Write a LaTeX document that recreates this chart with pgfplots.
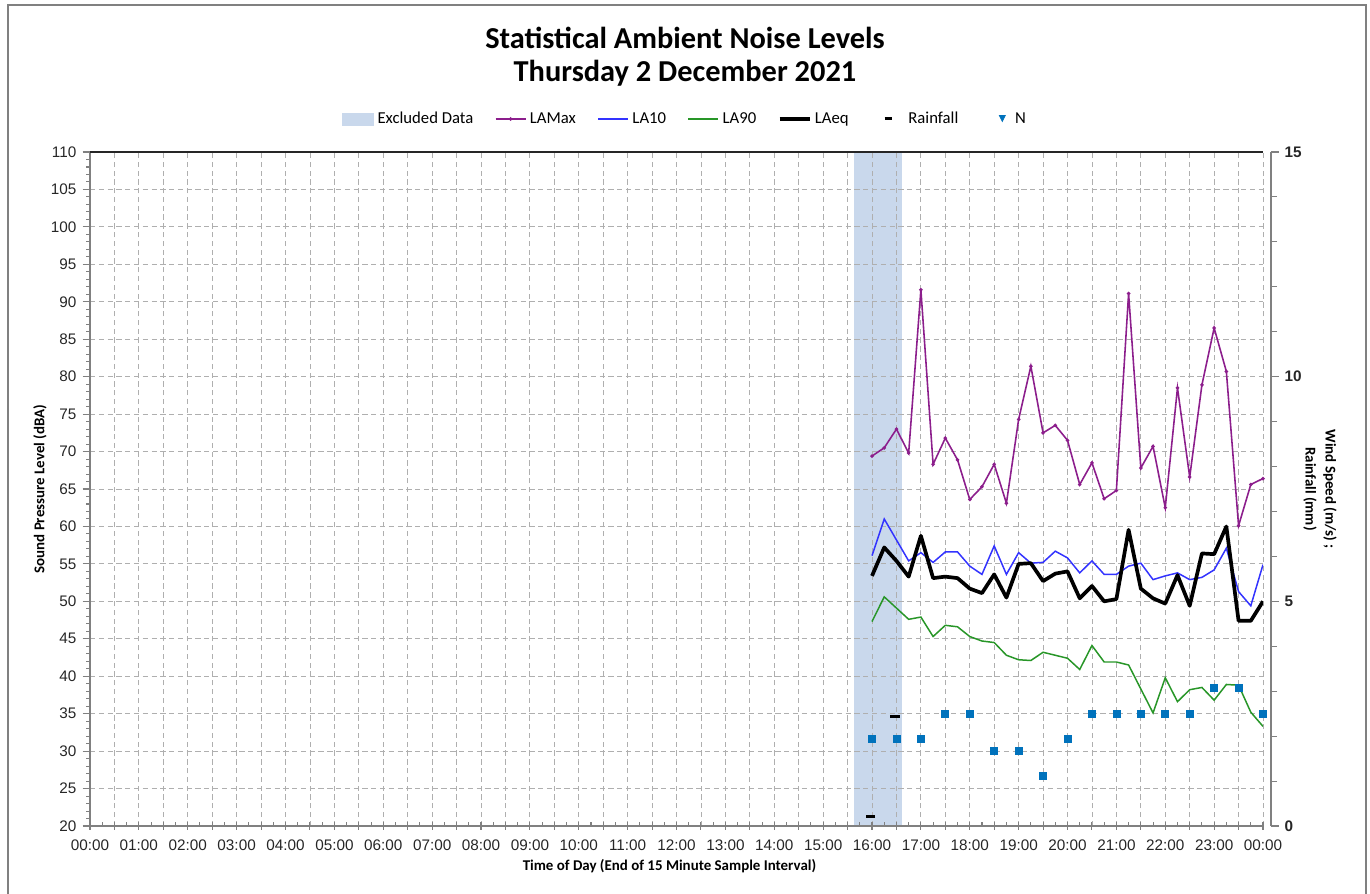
\documentclass[border=0pt]{standalone}
\usepackage{pgfplots}
\usepackage{pgfplotstable}
\pgfplotsset{compat=1.18}
\usepackage{fontspec}
\setmainfont{Carlito}
\newfontfamily\arial{Liberation Sans}
\definecolor{lamax}{RGB}{140,30,140}
\definecolor{la10}{RGB}{51,51,255}
\definecolor{la90}{RGB}{40,150,40}
\definecolor{ncol}{RGB}{0,114,188}
\definecolor{excl}{RGB}{201,216,236}
\definecolor{gridc}{RGB}{175,175,175}
\definecolor{axc}{RGB}{128,128,128}

\pgfplotstableread{
t lamax la10 la90 laeq
16.00 69.4 56.1 47.3 53.4
16.25 70.5 61.0 50.6 57.2
16.50 73.0 58.2 49.1 55.4
16.75 69.8 55.4 47.6 53.3
17.00 91.6 56.5 47.9 58.75
17.25 68.3 55.2 45.3 53.1
17.50 71.8 56.6 46.8 53.3
17.75 68.9 56.6 46.6 53.1
18.00 63.6 54.7 45.3 51.7
18.25 65.3 53.6 44.7 51.1
18.50 68.3 57.4 44.5 53.6
18.75 63.1 53.6 42.8 50.5
19.00 74.3 56.5 42.2 55.0
19.25 81.4 55.1 42.1 55.1
19.50 72.5 55.2 43.2 52.7
19.75 73.5 56.7 42.8 53.7
20.00 71.5 55.8 42.4 54.0
20.25 65.6 53.8 40.9 50.4
20.50 68.5 55.4 44.1 52.05
20.75 63.7 53.6 41.9 50.0
21.00 64.8 53.6 41.9 50.3
21.25 91.1 54.7 41.5 59.55
21.50 67.8 55.1 38.3 51.7
21.75 70.7 52.9 35.1 50.4
22.00 62.5 53.4 39.8 49.7
22.25 78.5 53.8 36.6 53.5
22.50 66.6 52.9 38.2 49.4
22.75 78.9 53.2 38.5 56.4
23.00 86.5 54.2 36.8 56.3
23.25 80.7 57.1 38.9 60.0
23.50 60.1 51.3 38.8 47.4
23.75 65.6 49.4 35.2 47.4
24.00 66.4 54.9 33.3 50.0
}\noise

\pgfplotstableread{
t n
16.0 1.95
16.5 1.95
17.0 1.95
17.5 2.5
18.0 2.5
18.5 1.68
19.0 1.68
19.5 1.11
20.0 1.95
20.5 2.5
21.0 2.5
21.5 2.5
22.0 2.5
22.5 2.5
23.0 3.07
23.5 3.07
24.0 2.5
}\wind

\pgfplotstableread{
t r
15.97 0.22
16.47 2.43
}\rain

\begin{document}
\begin{tikzpicture}
\useasboundingbox (-1.8,-1.34) rectangle (25.6,16.52);
\draw[axc, line width=1.1pt] (-1.64,-2) -- (-1.64,16.42) -- (25.52,16.42) -- (25.52,-2);

% background axis: excluded data band
\begin{axis}[scale only axis, width=23.46cm, height=13.48cm,
  xmin=0, xmax=24, ymin=20, ymax=110, hide axis]
\addplot[fill=excl, draw=none] coordinates {(15.64,110) (16.62,110)} \closedcycle;
\end{axis}

% main axis
\begin{axis}[scale only axis, width=23.46cm, height=13.48cm,
  xmin=0, xmax=24, ymin=20, ymax=110,
  axis x line*=bottom, axis y line*=left,
  axis line style={axc, line width=0.8pt},
  xtick={0,0.5,...,24},
  xticklabels={00:00,,01:00,,02:00,,03:00,,04:00,,05:00,,06:00,,07:00,,08:00,,09:00,,10:00,,11:00,,12:00,,13:00,,14:00,,15:00,,16:00,,17:00,,18:00,,19:00,,20:00,,21:00,,22:00,,23:00,,00:00},
  minor x tick num=1,
  ytick={20,25,...,110},
  minor y tick num=4,
  grid=major,
  major grid style={gridc, dash pattern=on 3pt off 2pt, line width=0.5pt},
  tick style={axc, line width=0.6pt},
  tick align=outside,
  major tick length=0.15cm, minor tick length=0.08cm,
  major x tick style={yshift=0.075cm},
  minor x tick style={yshift=0.08cm},
  /pgf/number format/assume math mode=true,
  xticklabel style={font=\arial\fontsize{8.7}{10}\selectfont, text=black!85},
  yticklabel style={font=\arial\fontsize{8.7}{10}\selectfont, text=black!85},
  xlabel={Time of Day (End of 15 Minute Sample Interval)},
  xlabel style={at={(axis description cs:0.494,-0.0593)}, anchor=center, font=\bfseries\fontsize{8.5}{10}\selectfont},
  ylabel={Sound Pressure Level (dBA)},
  ylabel style={at={(axis description cs:-0.0426,0.5)}, anchor=center, font=\bfseries\fontsize{8.5}{10}\selectfont},
  legend style={at={(axis description cs:0.508,1.049)}, anchor=center, draw=none, fill=none,
    legend columns=-1, font=\fontsize{9.5}{11}\selectfont,
    /tikz/every even column/.append style={column sep=0.36cm}},
  legend cell align=left,
  after end axis/.code={\draw[black!85, line width=1.2pt] (rel axis cs:0,1) -- (rel axis cs:1,1);},
]
\addlegendimage{legend image code/.code={\fill[excl] (0cm,-0.12cm) rectangle (0.62cm,0.12cm);}}
\addlegendentry{Excluded Data}
\addplot[lamax, line width=0.9pt, mark=*, mark size=0.5pt] table[x=t,y=lamax]{\noise};
\addlegendentry{LAMax}
\addplot[la10, line width=0.85pt] table[x=t,y=la10]{\noise};
\addlegendentry{LA10}
\addplot[la90, line width=0.85pt] table[x=t,y=la90]{\noise};
\addlegendentry{LA90}
\addplot[black, line width=2.1pt, line join=round] table[x=t,y=laeq]{\noise};
\addlegendentry{LAeq}
\addlegendimage{legend image code/.code={\path (0cm,0cm) (0.68cm,0cm); \draw[black, line width=1.7pt] (0.28cm,0cm) -- (0.42cm,0cm);}}
\addlegendentry{Rainfall}
\addlegendimage{legend image code/.code={\path (0cm,0cm) (0.62cm,0cm); \fill[ncol] (0.38cm,0.07cm) -- (0.50cm,0.07cm) -- (0.44cm,-0.05cm) -- cycle;}}
\addlegendentry{N}
\end{axis}

% secondary axis
\begin{axis}[scale only axis, width=23.62cm, height=13.48cm,
  xmin=0, xmax=24.1637, ymin=0, ymax=15,
  hide x axis, axis y line*=right,
  axis line style={axc, line width=0.8pt},
  ytick={0,5,10,15}, minor ytick={1,2,3,4,6,7,8,9,11,12,13,14},
  tick align=outside, tick style={axc, line width=0.6pt},
  major tick length=0.15cm, minor tick length=0.12cm,
  /pgf/number format/assume math mode=true,
  yticklabel style={font=\arial\bfseries\fontsize{8.7}{10}\selectfont, text=black!85},
]
\addplot[only marks, mark=square*, mark size=2pt, ncol] table[x=t,y=n]{\wind};
\addplot[only marks, mark=-, mark size=2.6pt, black, mark options={line width=1.7pt}] table[x=t,y=r]{\rain};
\end{axis}

\node[font=\bfseries\fontsize{17.3}{20}\selectfont] at (11.9,15.76) {Statistical Ambient Noise Levels};
\node[font=\bfseries\fontsize{17.3}{20}\selectfont] at (11.9,15.06) {Thursday 2 December 2021};
\node[rotate=-90, align=center, font=\bfseries\fontsize{8.5}{11.5}\selectfont] at (24.6,6.74) {Wind Speed (m/s) ;\\Rainfall (mm)};
\end{tikzpicture}
\end{document}
